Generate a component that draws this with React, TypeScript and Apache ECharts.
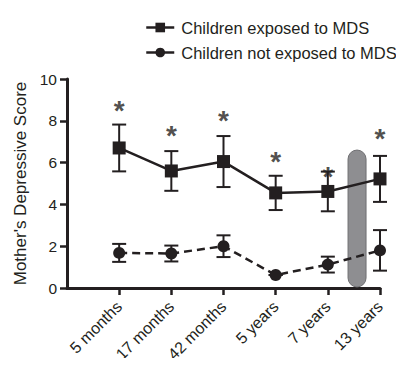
import React, { useEffect, useRef } from "react";
import * as echarts from "echarts";

const categories = ["5 months", "17 months", "42 months", "5 years", "7 years", "13 years"];
const exposedMean = [6.7, 5.6, 6.05, 4.55, 4.62, 5.22];
const exposedErr = [1.12, 0.95, 1.22, 0.82, 0.95, 1.1];
const notExposedMean = [1.68, 1.65, 2.0, 0.62, 1.12, 1.8];
const notExposedErr = [0.43, 0.38, 0.52, 0.0, 0.38, 0.97];
const starY = [8.78, 7.58, 8.3, 6.33, 5.61, 7.43];
const bandX = 5.56;
const bandRange = [0.05, 6.6];
const yTicks = [0, 2, 4, 6, 8, 10];

const INK = "#231f20";
const FONT = "'Liberation Sans', Arial, Helvetica, sans-serif";

export default function App() {
  const ref = useRef<HTMLDivElement>(null);
  useEffect(() => {
    if (!ref.current) return;
    const chart = echarts.init(ref.current, undefined, { renderer: "svg" });
    const xs = categories.map((_, i) => i + 1);
    const errData = (means: number[], errs: number[]) =>
      means.map((m, i) => [xs[i], m - errs[i], m + errs[i]]);
    const errRender = (params: any, api: any) => {
      const x = api.value(0);
      const lo = api.coord([x, api.value(1)]);
      const hi = api.coord([x, api.value(2)]);
      const hw = 7;
      const st = { stroke: INK, lineWidth: 2 };
      return {
        type: "group",
        children: [
          { type: "line", shape: { x1: lo[0], y1: lo[1], x2: hi[0], y2: hi[1] }, style: st },
          { type: "line", shape: { x1: lo[0] - hw, y1: lo[1], x2: lo[0] + hw, y2: lo[1] }, style: st },
          { type: "line", shape: { x1: hi[0] - hw, y1: hi[1], x2: hi[0] + hw, y2: hi[1] }, style: st },
        ],
      };
    };
    chart.setOption({
      animation: false,
      textStyle: { fontFamily: FONT },
      legend: {
        orient: "vertical",
        left: 140,
        top: 14,
        itemWidth: 28,
        itemHeight: 12,
        itemGap: 8,
        data: ["Children exposed to MDS", "Children not exposed to MDS"],
        lineStyle: { type: "solid", width: 2.5 },
        textStyle: { fontSize: 16.5, color: INK, fontFamily: FONT, padding: [0, 0, 0, 2] },
      },
      grid: {
        left: 67,
        right: 24,
        top: 79,
        bottom: 78,
        containLabel: false,
        outerBounds: { left: 0, right: 0, top: 0, bottom: -12 },
      },
      xAxis: {
        type: "value",
        min: 0,
        max: categories.length,
        interval: 1,
        splitLine: { show: false },
        axisLine: { show: true, lineStyle: { color: INK, width: 3 } },
        axisTick: { show: true, length: 7, lineStyle: { color: INK, width: 2.5 }, customValues: xs },
        axisLabel: {
          customValues: xs,
          rotate: 45,
          margin: 16,
          fontSize: 16,
          color: INK,
          fontFamily: FONT,
          formatter: (v: number) => categories[Math.round(v) - 1] ?? "",
        },
      },
      yAxis: {
        type: "value",
        min: 0,
        max: 10,
        interval: 2,
        name: "Mother's Depressive Score",
        nameLocation: "middle",
        nameGap: 36,
        nameTextStyle: { fontSize: 17, color: INK, fontFamily: FONT },
        splitLine: { show: false },
        axisLine: { show: true, lineStyle: { color: INK, width: 3 } },
        axisTick: { show: true, length: 7, lineStyle: { color: INK, width: 2.5 } },
        axisLabel: {
          fontSize: 15.5,
          color: INK,
          margin: 10,
          fontFamily: FONT,
          formatter: (v: number) => (yTicks.includes(v) ? String(v) : ""),
        },
      },
      series: [
        {
          type: "custom",
          name: "band",
          silent: true,
          z: 1,
          data: [[bandX, bandRange[0], bandRange[1]]],
          renderItem: (params: any, api: any) => {
            const lo = api.coord([api.value(0), api.value(1)]);
            const hi = api.coord([api.value(0), api.value(2)]);
            const w = 18;
            return {
              type: "rect",
              shape: { x: lo[0] - w / 2, y: hi[1], width: w, height: lo[1] - hi[1], r: w / 2 },
              style: { fill: "#8e8e91", stroke: "#6f6f72", lineWidth: 1 },
            };
          },
        },
        {
          type: "custom",
          name: "errA",
          silent: true,
          z: 3,
          data: errData(exposedMean, exposedErr),
          renderItem: errRender,
        },
        {
          type: "custom",
          name: "errB",
          silent: true,
          z: 3,
          data: errData(notExposedMean, notExposedErr),
          renderItem: errRender,
        },
        {
          type: "line",
          name: "Children exposed to MDS",
          z: 4,
          data: exposedMean.map((v, i) => [xs[i], v]),
          symbol: "rect",
          symbolSize: 13,
          lineStyle: { color: INK, width: 2.5 },
          itemStyle: { color: INK },
        },
        {
          type: "line",
          name: "Children not exposed to MDS",
          z: 4,
          data: notExposedMean.map((v, i) => [xs[i], v]),
          symbol: "circle",
          symbolSize: 12,
          lineStyle: { color: INK, width: 2.5, type: [8, 5] },
          itemStyle: { color: INK },
        },
        {
          type: "scatter",
          name: "stars",
          silent: true,
          z: 5,
          symbolSize: 1,
          itemStyle: { color: "rgba(0,0,0,0)" },
          data: starY.map((v, i) => [xs[i], v]),
          label: {
            show: true,
            position: "inside",
            formatter: "*",
            fontSize: 28,
            fontWeight: "bold",
            color: INK,
            textBorderWidth: 0,
            fontFamily: FONT,
            offset: [0, 6],
          },
        },
      ],
    });
    return () => chart.dispose();
  }, []);
  return <div ref={ref} style={{ width: 404, height: 366, margin: -8 }} />;
}
